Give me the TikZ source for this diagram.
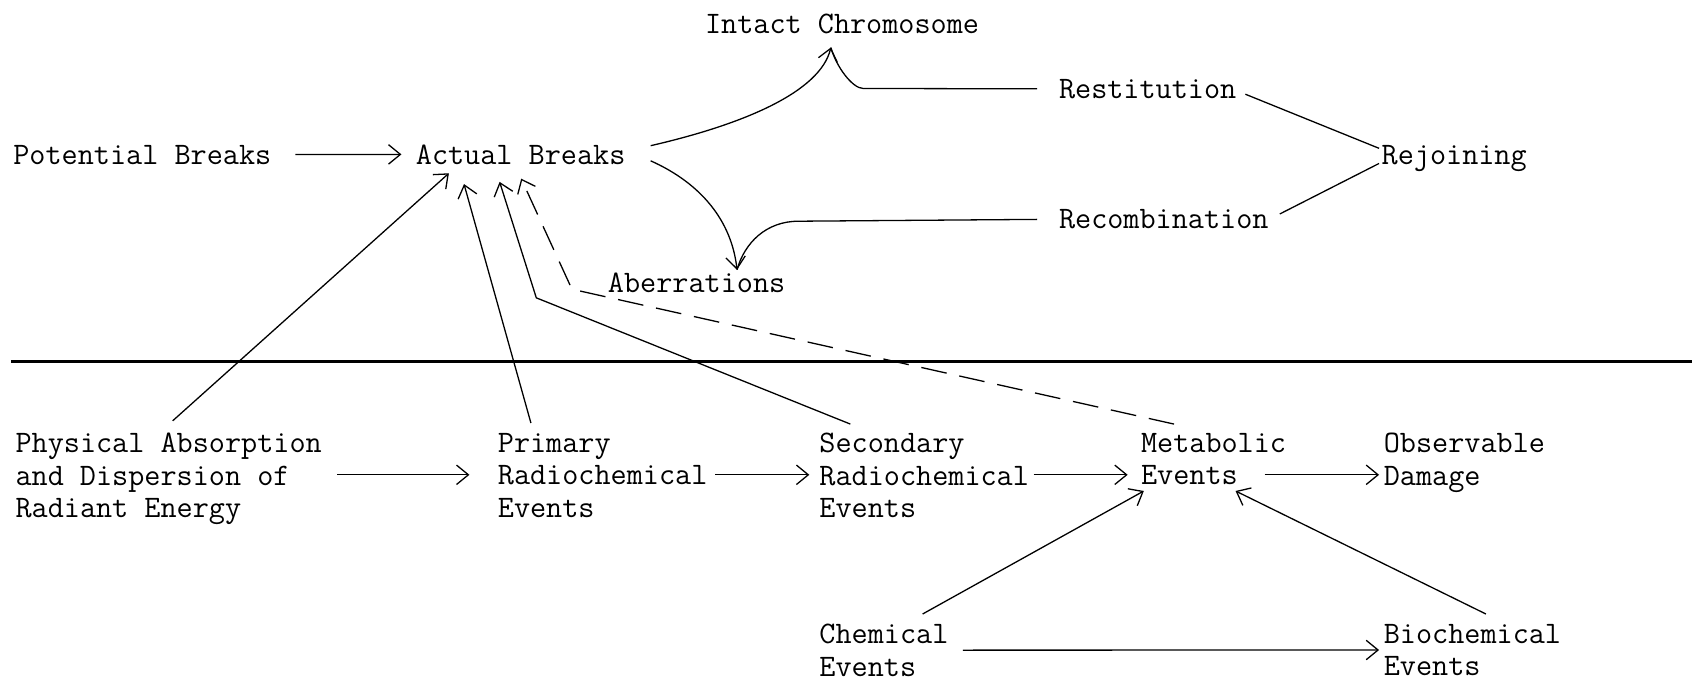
\documentclass[tikz,border=0pt]{standalone}
\usetikzlibrary{arrows.meta}
\begin{document}
\begin{tikzpicture}[x=0.5pt,y=-0.5pt,
  lbl/.style={font=\fontsize{14.5}{15}\selectfont\ttfamily, inner sep=0pt, align=left},
  arr/.style={-{Straight Barb[length=5.5pt,width=9pt]}, line width=0.6pt},
  ln/.style={line width=0.6pt},
  dsh/.style={dash pattern=on 12pt off 6pt}]
\useasboundingbox (0,0) rectangle (1568,631);
% top nodes
\node[lbl,anchor=base west] (intact) at (653,31) {Intact Chromosome};
\node[lbl,anchor=base west] (potential) at (12,152) {Potential Breaks};
\node[lbl,anchor=base west] (actual) at (385,152) {Actual Breaks};
\node[lbl,anchor=base west] (restitution) at (981,91) {Restitution};
\node[lbl,anchor=base west] (rejoining) at (1280,152) {Rejoining};
\node[lbl,anchor=base west] (recomb) at (981,212) {Recombination};
\node[lbl,anchor=base west] (aberr) at (563,271) {Aberrations};
% bottom nodes
\node[lbl,anchor=north west] (physical) at (14,401) {Physical Absorption\\and Dispersion of\\Radiant Energy};
\node[lbl,anchor=north west] (primary) at (461,401) {Primary\\Radiochemical\\Events};
\node[lbl,anchor=north west] (secondary) at (759,401) {Secondary\\Radiochemical\\Events};
\node[lbl,anchor=north west] (metabolic) at (1057,401) {Metabolic\\Events};
\node[lbl,anchor=north west] (observable) at (1282,401) {Observable\\Damage};
\node[lbl,anchor=north west] (chemical) at (759,578) {Chemical\\Events};
\node[lbl,anchor=north west] (biochemical) at (1282,578) {Biochemical\\Events};
% separator
\draw[line width=1.8pt] (10,335) -- (1568,335);
% coordinates
\coordinate (itip) at (770,44);
\coordinate (atip) at (683,250);
\coordinate (c1) at (497,276);
\coordinate (c2) at (530,268);
\coordinate (row) at (0,440);
% top connectors
\draw[arr, shorten <=11pt, shorten >=6.5pt] (potential) -- (actual);
\draw[arr] ([shift={(23,-8)}]actual.east) .. controls (690,115) and (760,85) .. (itip);
\draw[ln] ([xshift=-10pt]restitution.west) -- (800,82) .. controls (790,82) and (775,62) .. (itip);
\draw[arr] ([shift={(23,6)}]actual.east) .. controls (650,170) and (678,205) .. (atip);
\draw[ln] ([xshift=-10pt]recomb.west) -- (740,205) .. controls (710,205) and (690,225) .. (atip);
\draw[ln] ([shift={(8,5)}]restitution.east) -- ([shift={(-2,-9)}]rejoining.west);
\draw[ln] ([shift={(10,-5)}]recomb.east) -- ([shift={(-2,5)}]rejoining.west);
% lower to actual breaks
\draw[arr] ([shift={(146,-11)}]physical.north west) -- ([shift={(31,8)}]actual.south west);
\draw[arr] ([shift={(31,-9)}]primary.north west) -- ([shift={(45,18)}]actual.south west);
\draw[arr] ([shift={(29,-8)}]secondary.north west) -- (c1) -- ([shift={(78,16)}]actual.south west);
\draw[arr,dsh] ([shift={(31,-8)}]metabolic.north west) -- (c2) -- ([shift={(98,13)}]actual.south west);
% row arrows
\draw[arr, shorten <=7pt, shorten >=13pt] (physical.east |- row) -- (primary.west |- row);
\draw[arr, shorten <=3.5pt, shorten >=4.5pt] (primary.east |- row) -- (secondary.west |- row);
\draw[arr, shorten <=2pt, shorten >=6pt] (secondary.east |- row) -- (metabolic.west |- row);
\draw[arr, shorten >=2pt] ([xshift=57.5pt]metabolic.west |- row) -- (observable.west |- row);
\draw[arr, shorten <=6.5pt, shorten >=2pt] (chemical) -- (biochemical);
\draw[arr] ([shift={(96,-9)}]chemical.north west) -- ([shift={(3,54)}]metabolic.north west);
\draw[arr] ([shift={(95,-9)}]biochemical.north west) -- ([shift={(88,54)}]metabolic.north west);
\end{tikzpicture}
\end{document}
